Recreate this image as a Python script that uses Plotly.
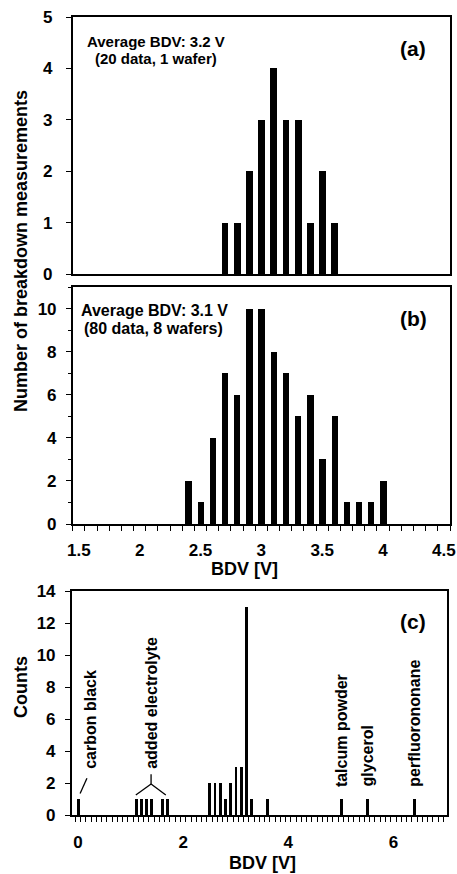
import plotly.graph_objects as go

W, H = 457, 874

# ---------------- data ----------------
# panel (a): 20 data, 1 wafer
a_bdv = [2.7, 2.8, 2.9, 3.0, 3.1, 3.2, 3.3, 3.4, 3.5, 3.6]
a_cnt = [1, 1, 2, 3, 4, 3, 3, 1, 2, 1]

# panel (b): 80 data, 8 wafers
b_bdv = [2.4, 2.5, 2.6, 2.7, 2.8, 2.9, 3.0, 3.1, 3.2, 3.3, 3.4, 3.5, 3.6, 3.7, 3.8, 3.9, 4.0]
b_cnt = [2, 1, 4, 7, 6, 10, 10, 8, 7, 5, 6, 3, 5, 1, 1, 1, 2]

# panel (c): contamination experiments
c_bdv = [0.0, 1.1, 1.2, 1.3, 1.4, 1.6, 1.7, 2.5, 2.6, 2.7, 2.8, 2.9, 3.0, 3.1, 3.2, 3.3, 3.6, 5.0, 5.5, 6.4]
c_cnt = [1, 1, 1, 1, 1, 1, 1, 2, 2, 2, 1, 2, 3, 3, 13, 1, 1, 1, 1, 1]

b_ticks = [1.5, 2, 2.5, 3, 3.5, 4, 4.5]
b_ticktext = ["1.5", "2", "2.5", "3", "3.5", "4", "4.5"]
c_ticks = [0, 2, 4, 6]
c_ticktext = ["0", "2", "4", "6"]

FONT = "Liberation Sans, Arial, sans-serif"

def px_x(p):
    return p / W

def px_y(p):
    return 1 - p / H

fig = go.Figure()
fig.add_trace(go.Bar(x=a_bdv, y=a_cnt, width=0.055, marker=dict(color="black", line=dict(width=0)),
                     xaxis="x", yaxis="y", showlegend=False))
fig.add_trace(go.Bar(x=b_bdv, y=b_cnt, width=0.052, marker=dict(color="black", line=dict(width=0)),
                     xaxis="x2", yaxis="y2", showlegend=False))
fig.add_trace(go.Bar(x=c_bdv, y=c_cnt, width=0.055, marker=dict(color="black", line=dict(width=0)),
                     xaxis="x3", yaxis="y3", showlegend=False))

tickfont = dict(family=FONT, size=17, color="black", weight="bold")
common_line = dict(showline=True, mirror=True, linecolor="black", linewidth=1.5,
                   showgrid=False, zeroline=False, automargin=False, fixedrange=True)

dom_ab = [px_x(72.7), px_x(450)]
dom_c = [px_x(71.7), px_x(447)]

fig.update_layout(
    width=W, height=H,
    margin=dict(l=0, r=0, t=0, b=0),
    paper_bgcolor="white", plot_bgcolor="white",
    bargap=0,
    font=dict(family=FONT, color="black"),
    xaxis=dict(domain=dom_ab, anchor="y", range=[1.45, 4.55], showticklabels=False, ticks="",
               **common_line),
    yaxis=dict(domain=[px_y(274), px_y(17)], anchor="x", range=[0, 5], dtick=1, tick0=0,
               ticks="outside", ticklen=5, tickwidth=1.2, tickcolor="black",
               tickfont=tickfont, ticklabelstandoff=10, **common_line),
    xaxis2=dict(domain=dom_ab, anchor="y2", range=[1.45, 4.55], tickmode="array",
                tickvals=b_ticks, ticktext=b_ticktext, ticks="", tickfont=tickfont,
                ticklabelstandoff=10,
                minor=dict(ticks="outside", ticklen=5, tickwidth=1.2, tickcolor="black",
                           tick0=1.45, dtick=0.1, showgrid=False),
                **common_line),
    yaxis2=dict(domain=[px_y(524), px_y(287)], anchor="x2", range=[0, 11], tickmode="array",
                tickvals=[0, 2, 4, 6, 8, 10], ticks="outside", ticklen=5, tickwidth=1.2,
                tickcolor="black", tickfont=tickfont, ticklabelstandoff=6,
                minor=dict(ticks="outside", ticklen=3, tickwidth=1, tickcolor="black",
                           tick0=0, dtick=1, showgrid=False),
                **common_line),
    xaxis3=dict(domain=dom_c, anchor="y3", range=[-0.12, 7.02], tickmode="array",
                tickvals=c_ticks, ticktext=c_ticktext, ticks="", tickfont=tickfont,
                ticklabelstandoff=11,
                minor=dict(ticks="outside", ticklen=5, tickwidth=1.2, tickcolor="black",
                           tick0=-0.05, dtick=0.1, showgrid=False),
                **common_line),
    yaxis3=dict(domain=[px_y(815), px_y(591)], anchor="x3", range=[0, 14], dtick=2, tick0=0,
                ticks="outside", ticklen=5, tickwidth=1.2, tickcolor="black",
                tickfont=tickfont, ticklabelstandoff=6, **common_line),
)

def txt(text, x, y, size, xanchor="left", yanchor="middle", angle=0, xref="paper", yref="paper"):
    fig.add_annotation(text=text, x=x, y=y, xref=xref, yref=yref, xanchor=xanchor,
                       yanchor=yanchor, textangle=angle, showarrow=False,
                       font=dict(family=FONT, size=size, color="black", weight="bold"),
                       borderpad=0)

# panel texts
txt("Average BDV: 3.2 V", px_x(86), px_y(41), 15)
txt("(20 data, 1 wafer)", px_x(94), px_y(58), 15)
txt("(a)", px_x(413), px_y(48), 21, xanchor="center")
txt("Average BDV: 3.1 V", px_x(80), px_y(310), 16)
txt("(80 data, 8 wafers)", px_x(83), px_y(329), 16)
txt("(b)", px_x(413), px_y(318), 21, xanchor="center")
txt("(c)", px_x(413), px_y(621), 21, xanchor="center")

# axis titles
txt("Number of breakdown measurements", px_x(21), px_y(251), 18, xanchor="center", angle=-90)
txt("BDV [V]", px_x(244), px_y(569), 18, xanchor="center")
txt("Counts", px_x(21), px_y(687), 18, xanchor="center", angle=-90)
txt("BDV [V]", px_x(262), px_y(874), 18, xanchor="center", yanchor="bottom")

# panel (c) labels
txt("carbon black", 0.25, 2.8, 16, xanchor="center", yanchor="bottom", angle=-90, xref="x3", yref="y3")
txt("added electrolyte", 1.4, 2.8, 16, xanchor="center", yanchor="bottom", angle=-90, xref="x3", yref="y3")
txt("talcum powder", 5.0, 1.7, 16, xanchor="center", yanchor="bottom", angle=-90, xref="x3", yref="y3")
txt("glycerol", 5.5, 1.7, 16, xanchor="center", yanchor="bottom", angle=-90, xref="x3", yref="y3")
txt("perfluorononane", 6.4, 1.7, 16, xanchor="center", yanchor="bottom", angle=-90, xref="x3", yref="y3")

line = dict(color="black", width=1.3)
fig.add_shape(type="line", xref="x3", yref="y3", x0=0.04, y0=1.35, x1=0.17, y1=2.3, line=line)
fig.add_shape(type="line", xref="x3", yref="y3", x0=1.10, y0=1.25, x1=1.39, y1=1.94, line=line)
fig.add_shape(type="line", xref="x3", yref="y3", x0=1.39, y0=1.94, x1=1.67, y1=1.25, line=line)
fig.add_shape(type="line", xref="x3", yref="y3", x0=1.39, y0=1.94, x1=1.39, y1=2.55, line=line)

fig.write_html("out.html")
